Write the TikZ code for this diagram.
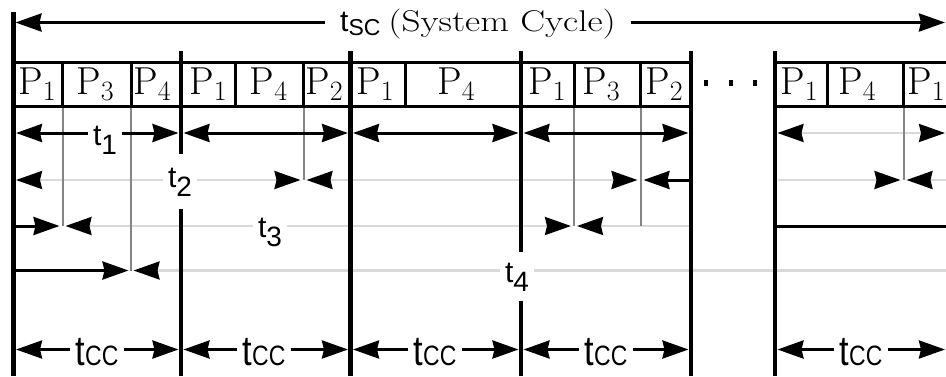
\documentclass[tikz,border=0pt]{standalone}
\usepackage{fontspec}
\newfontfamily\lsans{Liberation Sans}
\usetikzlibrary{arrows.meta}
\definecolor{lgray}{HTML}{D9D9D9}
\definecolor{vgray}{HTML}{858585}
\newcommand\Plab[1]{\fontsize{39}{39}\selectfont P\raisebox{-6pt}{\fontsize{28}{28}\selectfont #1}}
\newcommand\Tlab[1]{\lsans\fontsize{30}{30}\selectfont t\raisebox{-9pt}{\fontsize{28}{28}\selectfont #1}}
\newcommand\Tcc{\scalebox{0.82}[1]{\lsans\fontsize{42}{42}\selectfont t\fontsize{28}{28}\selectfont CC}}
\begin{document}
\begin{tikzpicture}[x=1pt,y=-1pt,
  cyc/.style={line width=4.5pt,black},
  boxline/.style={line width=3pt,black},
  gvert/.style={line width=2pt,vgray},
  blk/.style={line width=3pt,black},
  lgl/.style={line width=2.5pt,lgray},
  tl/.style={inner xsep=5pt,inner ysep=4pt,anchor=base},
  pl/.style={anchor=base,inner sep=0pt},
  dotm/.style={fill=black,inner sep=0pt,minimum width=4pt,minimum height=6pt},
  cc/.style={shorten <=2.5pt,shorten >=2.5pt},
  >={Stealth[length=26pt,width=18pt,inset=2pt,color=black]}]
\useasboundingbox (0,0) rectangle (946,376);
% reference coordinates
\coordinate (B0) at (13.5,0); \coordinate (B1) at (181,0); \coordinate (B2) at (350.5,0);
\coordinate (B3) at (521,0); \coordinate (B4) at (691,0); \coordinate (B5) at (775,0);
\coordinate (RE) at (946,0);
\coordinate (D1) at (62.5,0); \coordinate (D2) at (131,0); \coordinate (D3) at (235,0);
\coordinate (D4) at (303.5,0); \coordinate (D5) at (405.5,0); \coordinate (D6) at (574,0);
\coordinate (D7) at (640.5,0); \coordinate (D8) at (827.5,0); \coordinate (D9) at (903.5,0);
\coordinate (YT) at (0,22.5); \coordinate (Y0) at (0,12); \coordinate (YS) at (0,51);
\coordinate (BT) at (0,62.5); \coordinate (BB) at (0,106.5);
\coordinate (L1) at (0,133); \coordinate (L2) at (0,180); \coordinate (L3) at (0,226);
\coordinate (L4) at (0,270.5); \coordinate (LC) at (0,349.5); \coordinate (YE) at (0,376);

% labels
\node[tl,inner xsep=15pt] (tsc) at (478,31) {{\lsans\fontsize{30}{30}\selectfont t\raisebox{-4pt}{\fontsize{23}{23}\selectfont SC}}\hspace{8pt}\scalebox{1.24}[1]{\fontsize{30}{30}\selectfont (System Cycle)}};
\node[tl] (t1) at (105,145) {\Tlab{1}};
\node[tl,inner ysep=13pt] (t2) at (180,187) {\Tlab{2}};
\node[tl] (t3) at (270,237) {\Tlab{3}};
\node[tl,inner ysep=10pt] (t4) at (517,282) {\Tlab{4}};
\node[tl] (c1) at (97,365) {\Tcc};
\node[tl] (c2) at (264,365) {\Tcc};
\node[tl] (c3) at (435,365) {\Tcc};
\node[tl] (c4) at (606,365) {\Tcc};
\node[tl] (c5) at (861,365) {\Tcc};

% process labels
\node[pl] (p1) at (37,94) {\Plab{1}};
\node[pl] (p2) at (95,94) {\Plab{3}};
\node[pl] (p3) at (152,94) {\Plab{4}};
\node[pl] (p4) at (208,94) {\Plab{1}};
\node[pl] (p5) at (268.5,94) {\Plab{4}};
\node[pl] (p6) at (324,94) {\Plab{2}};
\node[pl] (p7) at (375,94) {\Plab{1}};
\node[pl] (p8) at (456,94) {\Plab{4}};
\node[pl] (p9) at (547,94) {\Plab{1}};
\node[pl] (p10) at (601,94) {\Plab{3}};
\node[pl] (p11) at (664,94) {\Plab{2}};
\node[pl] (p12) at (799,94) {\Plab{1}};
\node[pl] (p13) at (857,94) {\Plab{4}};
\node[pl] (p14) at (926,94) {\Plab{1}};
\node[dotm] (d1) at (706,83) {};
\node[dotm] (d2) at (730.5,83) {};
\node[dotm] (d3) at (755,83) {};

% light grey timing lines
\draw[lgl,<-,shorten <=2.5pt] (B0|-L2) -- (t2.west|-L2);
\draw[lgl,->,shorten >=3pt] (t2.east|-L2) -- (D4|-L2);
\draw[lgl,<->,shorten <=3pt,shorten >=3pt] (D4|-L2) -- (D7|-L2);
\draw[lgl,->,shorten <=2.5pt,shorten >=3pt] (B5|-L2) -- (D9|-L2);
\draw[lgl,<-,shorten <=3pt] (D9|-L2) -- (RE|-L2);
\draw[lgl,<-,shorten <=3pt] (D1|-L3) -- (t3.west|-L3);
\draw[lgl,->,shorten >=3pt] (t3.east|-L3) -- (D6|-L3);
\draw[lgl,<-,shorten <=3pt,shorten >=2.5pt] (D6|-L3) -- (B4|-L3);
\draw[lgl,<-,shorten <=2.5pt] (D2|-L4) -- (t4.west|-L4);
\draw[lgl] (t4.east|-L4) -- (RE|-L4);
\draw[lgl,<->,cc,shorten >=1pt] (B5|-L1) -- (RE|-L1);

% grey drop lines
\draw[gvert] (D1|-BB) -- (D1|-L3);
\draw[gvert] (D2|-BB) -- (D2|-L4);
\draw[gvert] (D4|-BB) -- (D4|-L2);
\draw[gvert] (D6|-BB) -- (D6|-L3);
\draw[gvert] (D7|-BB) -- (D7|-L3);
\draw[gvert] (D9|-BB) -- (D9|-L2);

% black timing lines
\draw[blk,<-,shorten <=2pt] (B0|-YT) -- (tsc.west|-YT);
\draw[blk,->,shorten >=1pt] (tsc.east|-YT) -- (RE|-YT);
\draw[blk,<-,shorten <=2.5pt] (B0|-L1) -- (t1.west|-L1);
\draw[blk,->,shorten >=2.5pt] (t1.east|-L1) -- (B1|-L1);
\draw[blk,<->,cc] (B1|-L1) -- (B2|-L1);
\draw[blk,<->,cc] (B2|-L1) -- (B3|-L1);
\draw[blk,<->,cc] (B3|-L1) -- (B4|-L1);
\draw[blk,<-,shorten <=3pt] (D7|-L2) -- (B4|-L2);
\draw[blk,->,shorten >=3pt] (B0|-L3) -- (D1|-L3);
\draw[blk] (B5|-L3) -- (RE|-L3);
\draw[blk,->,shorten >=2.5pt] (B0|-L4) -- (D2|-L4);
\draw[blk,<-,shorten <=2.5pt] (B0|-LC) -- (c1.west|-LC);
\draw[blk,->,shorten >=2.5pt] (c1.east|-LC) -- (B1|-LC);
\draw[blk,<-,shorten <=2.5pt] (B1|-LC) -- (c2.west|-LC);
\draw[blk,->,shorten >=2.5pt] (c2.east|-LC) -- (B2|-LC);
\draw[blk,<-,shorten <=2.5pt] (B2|-LC) -- (c3.west|-LC);
\draw[blk,->,shorten >=2.5pt] (c3.east|-LC) -- (B3|-LC);
\draw[blk,<-,shorten <=2.5pt] (B3|-LC) -- (c4.west|-LC);
\draw[blk,->,shorten >=2.5pt] (c4.east|-LC) -- (B4|-LC);
\draw[blk,<-,shorten <=2.5pt] (B5|-LC) -- (c5.west|-LC);
\draw[blk,->,shorten >=1pt] (c5.east|-LC) -- (RE|-LC);

% frame row
\draw[boxline] (B0|-BT) -- (B4|-BT) (B0|-BB) -- (B4|-BB)
               (B5|-BT) -- (RE|-BT) (B5|-BB) -- (RE|-BB);
\foreach \d in {D1,D2,D3,D4,D5,D6,D7,D8,D9}
  \draw[boxline] (\d|-BT) -- (\d|-BB);

% cycle boundaries
\draw[cyc] (B0|-Y0) -- (B0|-YE);
\draw[cyc] (B1|-YS) -- (B1|-t2.north) (B1|-t2.south) -- (B1|-YE);
\draw[cyc] (B2|-YS) -- (B2|-YE);
\draw[cyc] (B3|-YS) -- (B3|-t4.north) (B3|-t4.south) -- (B3|-YE);
\draw[cyc] (B4|-YS) -- (B4|-YE);
\draw[cyc] (B5|-YS) -- (B5|-YE);
\end{tikzpicture}
\end{document}
